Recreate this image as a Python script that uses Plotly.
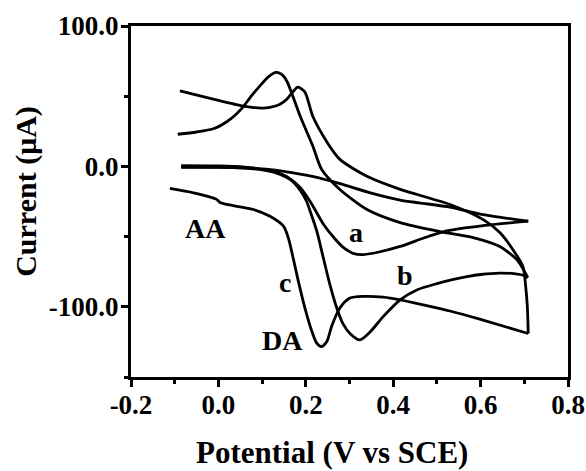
import plotly.graph_objects as go

# Cyclic voltammograms (potential in V vs SCE, current in µA)
# Each scan is split into its forward (anodic) and reverse (cathodic) branch.

# curve a
a_fwd_v = [-0.085, 0.0, 0.06, 0.11, 0.14, 0.165, 0.187, 0.21, 0.24, 0.265, 0.285, 0.309, 0.33, 0.36, 0.416, 0.47, 0.522, 0.569, 0.628, 0.709]
a_fwd_i = [0.5, 0.3, -0.5, -2.5, -5, -9, -15, -25, -41, -51, -57.5, -62, -62.8, -61.5, -57, -51, -46, -43.6, -41.4, -39]
a_rev_v = [0.709, 0.65, 0.599, 0.53, 0.46, 0.416, 0.35, 0.28, 0.22, 0.187, 0.15, 0.11, 0.06, 0.0, -0.085]
a_rev_i = [-39, -36.5, -34, -29, -26, -24, -19, -12.5, -7.5, -5.5, -3.5, -2.0, -1.0, -0.6, -0.6]

# curve b
b_fwd_v = [-0.085, 0.0, 0.06, 0.11, 0.14, 0.165, 0.187, 0.202, 0.21, 0.225, 0.24, 0.255, 0.271, 0.285, 0.301, 0.324, 0.347, 0.377, 0.416, 0.454, 0.50, 0.538, 0.569, 0.60, 0.644, 0.68, 0.697, 0.708]
b_fwd_i = [-0.3, -0.5, -1.2, -3, -5.5, -9.5, -17, -25, -32, -46, -65, -84, -101, -112, -119, -123.6, -118, -107, -95, -88, -83.5, -80.5, -78.5, -77, -76, -76.5, -77.5, -79.3]
b_rev_v = [0.708, 0.702, 0.683, 0.644, 0.583, 0.507, 0.416, 0.340, 0.278, 0.236, 0.216, 0.187, 0.157, 0.145, 0.132, 0.115, 0.095, 0.075, 0.057, 0.04, 0.02, -0.01, -0.05, -0.093]
b_rev_i = [-79.3, -75.7, -66.4, -57.1, -50.7, -46.4, -40, -30.7, -16.4, -2, 14.5, 35.9, 60.5, 65.5, 67, 64, 57.4, 50, 42.6, 37, 32, 27, 24.5, 22.9]

# curve c
c_fwd_v = [-0.111, -0.057, -0.005, 0.003, 0.019, 0.05, 0.080, 0.118, 0.149, 0.16, 0.171, 0.183, 0.198, 0.214, 0.225, 0.236, 0.248, 0.259, 0.278, 0.301, 0.332, 0.377, 0.416, 0.469, 0.53, 0.6, 0.709]
c_fwd_i = [-15.7, -18.8, -23.3, -25.5, -27.1, -28.8, -30.7, -35.5, -42.6, -50.9, -65.2, -81.9, -100.9, -117.6, -125.9, -128.4, -124.8, -114, -100.9, -93.8, -92.6, -93.1, -95, -98.6, -103, -109, -119]
c_rev_v = [0.709, 0.707, 0.703, 0.697, 0.674, 0.644, 0.606, 0.53, 0.416, 0.34, 0.278, 0.249, 0.216, 0.198, 0.182, 0.17, 0.157, 0.14, 0.118, 0.10, 0.057, -0.012, -0.088]
c_rev_i = [-119, -100, -85, -71.4, -59.3, -47.1, -37.9, -27.1, -16.4, -7.1, 5, 17.1, 35.7, 52.9, 56.4, 53, 48, 44, 42, 41.5, 42.9, 47.9, 53.8]

# axis ticks
x_ticks = [-0.2, 0.0, 0.2, 0.4, 0.6, 0.8]
x_tick_text = ["-0.2", "0.0", "0.2", "0.4", "0.6", "0.8"]
y_ticks = [-100, 0, 100]
y_tick_text = ["-100.0", "0.0", "100.0"]

SERIF = "Liberation Serif, Times New Roman, serif"
INK = "#000000"

fig = go.Figure()
for v, i in [(a_fwd_v, a_fwd_i), (a_rev_v, a_rev_i),
             (b_fwd_v, b_fwd_i), (b_rev_v, b_rev_i),
             (c_fwd_v, c_fwd_i), (c_rev_v, c_rev_i)]:
    fig.add_trace(go.Scatter(
        x=v, y=i, mode="lines",
        line=dict(color=INK, width=2.8, shape="spline", smoothing=0.7),
        showlegend=False, hoverinfo="skip",
    ))

label_font = dict(family=SERIF, size=28, color=INK, weight="bold")
for txt, xv, yv in [("AA", -0.03, -44), ("DA", 0.147, -124),
                    ("a", 0.315, -47), ("b", 0.428, -78), ("c", 0.152, -83)]:
    fig.add_annotation(x=xv, y=yv, text=txt, showarrow=False,
                       font=label_font, xanchor="center", yanchor="middle")

fig.add_annotation(xref="paper", yref="paper", x=0.461, y=-0.214,
                   text="Potential (V vs SCE)", showarrow=False,
                   font=dict(family=SERIF, size=31, color=INK, weight="bold"),
                   xanchor="center", yanchor="middle")
fig.add_annotation(xref="paper", yref="paper", x=-0.24, y=0.528,
                   text="Current (μA)", textangle=-90, showarrow=False,
                   font=dict(family=SERIF, size=30, color=INK, weight="bold"),
                   xanchor="center", yanchor="middle")

tick_font = dict(family=SERIF, size=27, color=INK, weight="bold")
fig.update_xaxes(
    range=[-0.2, 0.8], tickvals=x_ticks, ticktext=x_tick_text,
    showline=True, linecolor=INK, linewidth=3, mirror=True,
    ticks="outside", ticklen=7, tickwidth=3, tickcolor=INK,
    minor=dict(dtick=0.1, tick0=-0.2, ticks="outside", ticklen=4, tickwidth=3, tickcolor=INK, showgrid=False),
    showgrid=False, zeroline=False, tickfont=tick_font, automargin=False,
    ticklabelstandoff=-5,
)
fig.update_yaxes(
    range=[-150, 100], tickvals=y_ticks, ticktext=y_tick_text,
    showline=True, linecolor=INK, linewidth=3, mirror=True,
    ticks="outside", ticklen=7, tickwidth=3, tickcolor=INK,
    minor=dict(dtick=50, tick0=0, ticks="outside", ticklen=4, tickwidth=3, tickcolor=INK, showgrid=False),
    showgrid=False, zeroline=False, tickfont=tick_font, automargin=False,
    ticklabelstandoff=-3,
)

fig.update_layout(
    width=586, height=471,
    margin=dict(l=131, r=18, t=26, b=94, autoexpand=False),
    paper_bgcolor="white", plot_bgcolor="white",
)

fig.write_html("out.html")
